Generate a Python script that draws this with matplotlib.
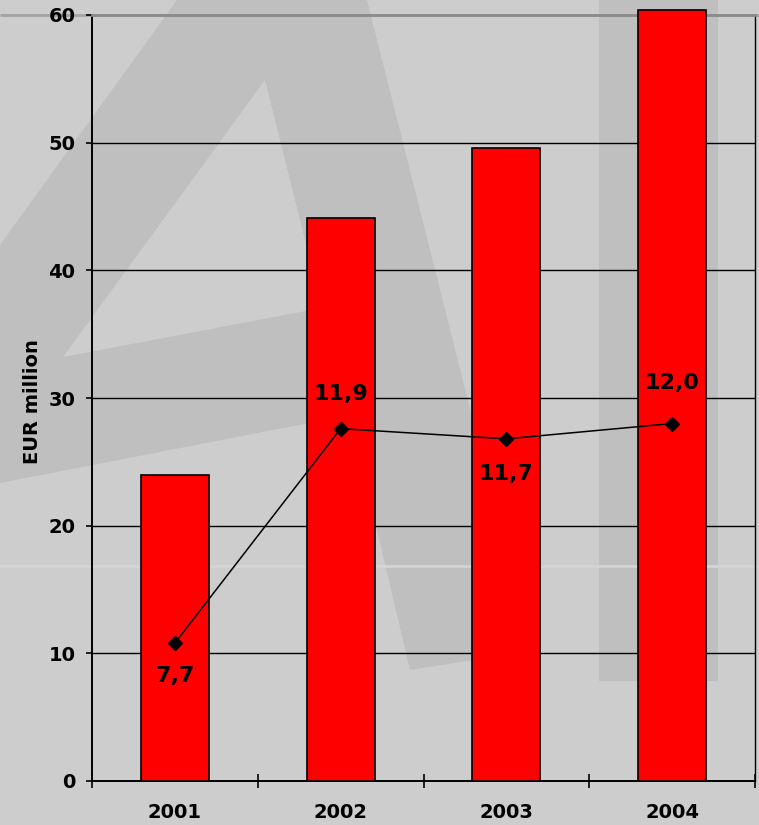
import matplotlib
matplotlib.use("Agg")
import matplotlib.pyplot as plt
from matplotlib.patches import Polygon, Rectangle

# Revenue (EUR million) and the margin line drawn on a hidden second scale
years = ["2001", "2002", "2003", "2004"]
revenue = [24.0, 44.1, 49.6, 60.4]
margin = [7.7, 11.9, 11.7, 12.0]
margin_labels = ["7,7", "11,9", "11,7", "12,0"]
label_offsets = [-24, 25, -25, 29]   # points above/below the marker

W, H = 759, 825
BG = "#cdcdcd"
DARK = "#bfbfbf"

fig = plt.figure(figsize=(W / 100, H / 100), dpi=100, facecolor=BG)

# Backdrop logo, drawn in pixel units
bg = fig.add_axes([0, 0, 1, 1], zorder=0)
bg.set_xlim(0, W)
bg.set_ylim(H, 0)
bg.axis("off")
bg.plot([0, W], [566, 566], color="#d4d4d4", lw=2.0, solid_capstyle="butt")
bg.plot([0, W], [15, 15], color="#a3a3a3", lw=2.0, solid_capstyle="butt")
bg.add_patch(Polygon([(0, 245), (177, 0), (367, 0), (531, 651), (410, 670),
                      (350, 415), (0, 483)], closed=True, fc=DARK, ec="none"))
bg.add_patch(Polygon([(265, 80), (63, 357), (322, 308)], closed=True,
                     fc=BG, ec="none"))
bg.add_patch(Rectangle((599, 0), 119, 681, fc=DARK, ec="none"))

# Main chart
ax = fig.add_axes([92 / W, (H - 781) / H, (755 - 92) / W, 766 / H], zorder=1)
ax.patch.set_alpha(0)
x = list(range(len(years)))
ax.bar(x, revenue, width=0.41, color="#ff0000", edgecolor="black",
       linewidth=1.2, zorder=3, clip_on=False)
ax.set_xlim(-0.5, 3.5)
ax.set_ylim(0, 60)
ax.set_yticks(range(0, 70, 10))
ax.set_axisbelow(True)
ax.yaxis.grid(True, color="black", linewidth=1.0)
ax.get_ygridlines()[-1].set_color("#8c8c8c")

ax.set_xticks(x)
ax.set_xticklabels(years)
ax.set_xticks([-0.5, 0.5, 1.5, 2.5, 3.5], minor=True)
ax.tick_params(axis="x", which="major", length=0, pad=16)
ax.tick_params(axis="x", which="minor", direction="inout", length=10,
               width=1.2, color="black")
ax.tick_params(axis="y", direction="out", length=4, width=1.2, pad=8)
for lab in ax.get_xticklabels() + ax.get_yticklabels():
    lab.set_fontsize(14)
    lab.set_fontweight("bold")

for side in ["left", "bottom"]:
    ax.spines[side].set_linewidth(1.4)
ax.spines["right"].set_linewidth(1.0)
ax.spines["top"].set_color("#8c8c8c")
ax.spines["top"].set_linewidth(2.0)

fig.text(33 / W, (H - 402) / H, "EUR million", rotation=90, ha="center",
         va="center", fontsize=14, fontweight="bold")

# Margin line on its own scale
ax2 = ax.twinx()
ax2.set_ylim(5, 20)
ax2.set_yticks([])
for s in ax2.spines.values():
    s.set_visible(False)
ax2.plot(x, margin, color="black", linewidth=1.1, marker="D",
         markersize=7.5, zorder=3)
for xi, v, txt, off in zip(x, margin, margin_labels, label_offsets):
    ax2.annotate(txt, (xi, v), xytext=(0, off), textcoords="offset points",
                 ha="center", va="center", fontsize=16, fontweight="bold")

fig.savefig("out.png", dpi=100, facecolor=BG)
